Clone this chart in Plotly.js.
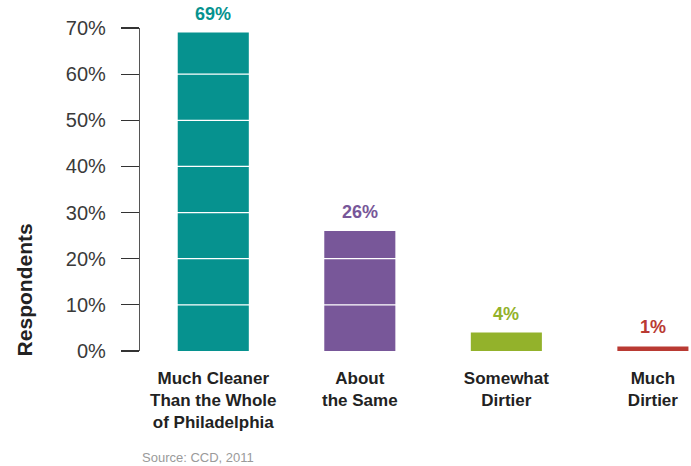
<!DOCTYPE html>
<html>
<head>
<meta charset="utf-8">
<script src="https://cdn.plot.ly/plotly-3.0.1.min.js"></script>
<style>
  html, body { margin: 0; padding: 0; background: #fff; }
  #chart { width: 691px; height: 466px; }
</style>
</head>
<body>
<div id="chart"></div>
<script>
// ---- data ----
const categories = [
  "Much Cleaner<br>Than the Whole<br>of Philadelphia",
  "About<br>the Same",
  "Somewhat<br>Dirtier",
  "Much<br>Dirtier"
];
const values = [69, 26, 4, 1];
const valueLabels = ["69%", "26%", "4%", "1%"];
const barColors = ["#06928F", "#785799", "#93B22B", "#B93A33"];
const yTickVals = [0, 10, 20, 30, 40, 50, 60, 70];
const yTickText = ["0%", "10%", "20%", "30%", "40%", "50%", "60%", "70%"];
const gridVals = [10, 20, 30, 40, 50, 60];
const sourceText = "Source: CCD, 2011";
const yTitle = "Respondents";

const xIdx = categories.map((_, i) => i);

const trace = {
  type: "bar",
  x: xIdx,
  y: values,
  width: 0.485,
  marker: { color: barColors, line: { width: 0 } },
  hoverinfo: "skip"
};

const annotations = values.map((v, i) => ({
  x: i, y: v, xref: "x", yref: "y",
  text: "<b>" + valueLabels[i] + "</b>",
  showarrow: false, yanchor: "bottom", yshift: 7,
  font: { family: "Liberation Sans, Arial, sans-serif", size: 18, color: barColors[i] }
}));

annotations.push({
  text: "<b>" + yTitle + "</b>",
  xref: "paper", yref: "y",
  x: -0.21, y: 13.2,
  textangle: -90, showarrow: false,
  xanchor: "center", yanchor: "middle",
  font: { family: "Liberation Sans, Arial, sans-serif", size: 21, color: "#222" }
});

annotations.push({
  text: sourceText,
  xref: "paper", yref: "paper",
  x: 0, y: -0.33, xanchor: "left", yanchor: "middle",
  showarrow: false,
  font: { family: "Liberation Sans, Arial, sans-serif", size: 13, color: "#9a9a9a" }
});

const shapes = gridVals.map(g => ({
  type: "line", layer: "above",
  xref: "paper", yref: "y",
  x0: 0.05, x1: 1, y0: g, y1: g,
  line: { color: "#ffffff", width: 1.3 }
}));

const layout = {
  width: 691, height: 466,
  margin: { l: 140, r: 0, t: 28, b: 115, pad: 0 },
  paper_bgcolor: "#fff", plot_bgcolor: "#fff",
  showlegend: false,
  xaxis: {
    range: [-0.5, 3.26],
    tickmode: "array", tickvals: xIdx, ticktext: categories.map(c => "<b>" + c + "</b>"),
    showgrid: false, zeroline: false, showline: false, ticks: "",
    ticklabelstandoff: 15,
    tickfont: { family: "Liberation Sans, Arial, sans-serif", size: 17, color: "#222" },
    fixedrange: true
  },
  yaxis: {
    range: [0, 70],
    tickmode: "array", tickvals: yTickVals, ticktext: yTickText,
    showgrid: false, zeroline: false,
    showline: true, linecolor: "#555", linewidth: 1.2,
    ticks: "outside", ticklen: 18, tickwidth: 1.2, tickcolor: "#333",
    ticklabelstandoff: 11,
    tickfont: { family: "Liberation Sans, Arial, sans-serif", size: 20, color: "#3a3a3a" },
    fixedrange: true
  },
  annotations: annotations,
  shapes: shapes
};

Plotly.newPlot("chart", [trace], layout, { displayModeBar: false, staticPlot: true });
</script>
</body>
</html>
